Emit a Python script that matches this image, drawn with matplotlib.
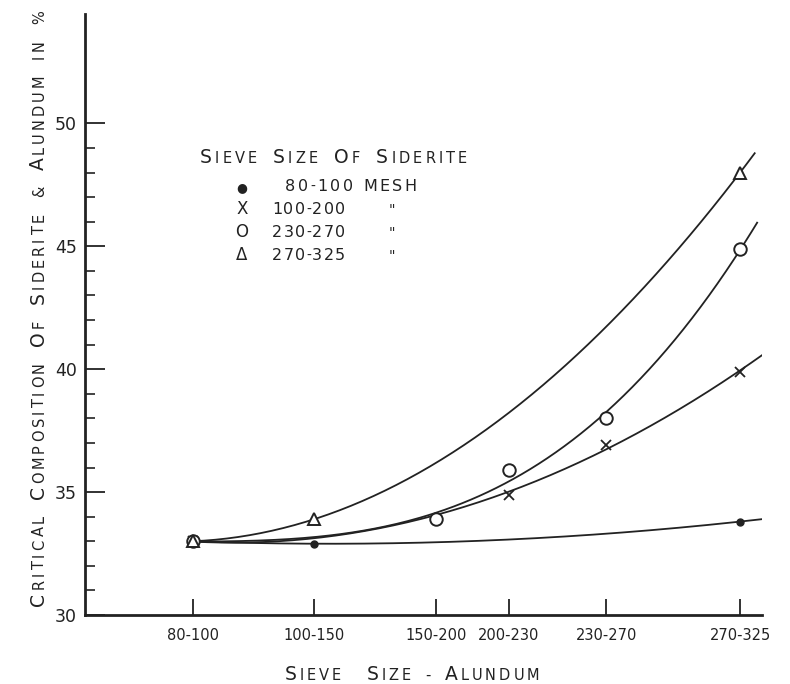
import numpy as np
import matplotlib
matplotlib.use("Agg")
import matplotlib.pyplot as plt
from matplotlib.ticker import FixedLocator

# sieve size of alundum (plotted at upper mesh number)
mesh_pos = [100, 150, 200, 230, 270, 325]
mesh_labels = ['80-100', '100-150', '150-200', '200-230', '230-270', '270-325']

# critical composition, per siderite size
s80_x = [100, 150, 325]
s80_y = [33.0, 32.9, 33.8]
s100_x = [100, 230, 270, 325]
s100_y = [33.0, 34.9, 36.9, 39.9]
s230_x = [100, 200, 230, 270, 325]
s230_y = [33.0, 33.9, 35.9, 38.0, 44.9]
s270_x = [100, 150, 325]
s270_y = [33.0, 33.9, 48.0]

INK = '#222222'
W, H = 790, 684
fig = plt.figure(figsize=(W / 100, H / 100), dpi=100)
ax = fig.add_axes([85 / W, 1 - 615 / H, (762 - 85) / W, (615 - 14) / H])
ax.set_xlim(55.7, 334)
ax.set_ylim(30, 54.45)


def smooth(xs, ys, deg, x_end):
    c = np.polyfit(xs, ys, deg)
    xx = np.linspace(xs[0], x_end, 200)
    return xx, np.polyval(c, xx)


for xs, ys, deg, xe in [(s80_x, s80_y, 2, 334), (s100_x, s100_y, 2, 334),
                        (s230_x, s230_y, 3, 332), (s270_x, s270_y, 2, 331)]:
    xx, yy = smooth(xs, ys, deg, xe)
    ax.plot(xx, yy, color=INK, lw=1.3, zorder=2)

ax.plot(s80_x, s80_y, 'o', color=INK, ms=5, zorder=3)
ax.plot(s100_x, s100_y, 'x', color=INK, ms=7, mew=1.3, zorder=3)
ax.plot(s230_x, s230_y, 'o', mfc='white', mec=INK, ms=9, mew=1.4, zorder=3)
ax.plot(s270_x, s270_y, '^', mfc='white', mec=INK, ms=8, mew=1.4, zorder=3)

for s in ['top', 'right']:
    ax.spines[s].set_visible(False)
for s in ['left', 'bottom']:
    ax.spines[s].set_linewidth(2.0)
    ax.spines[s].set_color(INK)

ax.set_xticks(mesh_pos)
ax.set_xticklabels(mesh_labels, fontsize=10.5, color=INK)
ax.tick_params(axis='x', direction='in', length=11.5, width=1.3, pad=9, colors=INK)
ax.set_yticks([30, 35, 40, 45, 50])
ax.set_yticklabels(['30', '35', '40', '45', '50'], fontsize=12.5, color=INK)
ax.yaxis.set_minor_locator(FixedLocator([v for v in range(31, 50) if v % 5]))
ax.tick_params(axis='y', which='major', direction='in', length=14.5, width=1.3, pad=6, colors=INK)
ax.tick_params(axis='y', which='minor', direction='in', length=7, width=1.2, colors=INK)

SMALL_MARKS = '&%-'


def caps(x, y, s, length, big=13, small=10, rot=0, align='center', space=8):
    # lettering-guide style: capitals big, lower case printed as small capitals,
    # spread out to the given length in pixels
    r = fig.canvas.get_renderer()
    items = []
    for ch in s:
        if ch == ' ':
            items.append((None, space))
            continue
        size = big if (ch.isupper() or ch.isdigit()) else small
        if ch in SMALL_MARKS:
            size = small
        tmp = fig.text(0, 0, ch.upper(), fontsize=size)
        items.append((ch.upper(), size, tmp.get_window_extent(r).width))
        tmp.remove()
    widths = [it[2] if it[0] is not None else it[1] for it in items]
    extra = (length - sum(widths)) / max(len(items) - 1, 1)
    pos = -length / 2 if align == 'center' else 0
    for it, w in zip(items, widths):
        if it[0] is not None:
            if rot == 0:
                px, py = x + pos, H - y
            else:
                px, py = x, H - y + pos
            fig.text(px / W, py / H, it[0], fontsize=it[1], rotation=rot,
                     rotation_mode='anchor', ha='left', va='baseline', color=INK)
        pos += w + extra


caps(412, 680, 'Sieve  Size - Alundum', 255, big=13.5, small=10.5)
caps(44, 308, 'Critical Composition Of Siderite & Alundum in %', 595,
     big=13.5, small=10.5, rot=90, space=10)

# legend block
caps(200, 163, 'Sieve Size Of Siderite', 267, big=13.5, small=10.5, align='left', space=10)
leg_syms = ['●', 'X', 'O', 'Δ']
leg_text = ['80-100 MESH', '100-200', '230-270', '270-325']
leg_x = [285, 272, 272, 272]
leg_len = [132, 73, 73, 73]
leg_base = [191, 214, 237, 260]
for i in range(4):
    fig.text(242 / W, 1 - leg_base[i] / H, leg_syms[i], fontsize=9 if i == 0 else 12,
             ha='center', va='baseline', color=INK)
    caps(leg_x[i], leg_base[i], leg_text[i], leg_len[i], big=11.5, align='left', space=6)
    if i:
        fig.text(392 / W, 1 - leg_base[i] / H, '"', fontsize=10, ha='center',
                 va='baseline', color=INK)

fig.savefig('out.png', dpi=100)
